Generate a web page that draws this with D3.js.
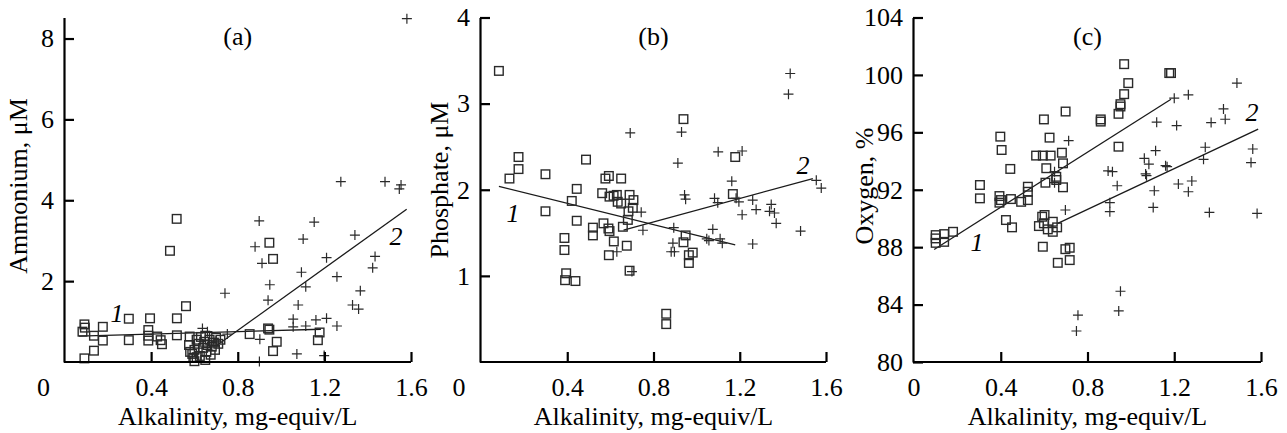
<!DOCTYPE html>
<html lang="en">
  <head>
    <meta charset="utf-8">
    <title>Alkalinity scatter panels</title>
    <script type="text/javascript" src="https://cdn.jsdelivr.net/npm/d3@7"></script>
    <style type="text/css">
      body { margin: 0; background: #fff; }
    </style>
  </head>
  <body>
    <script type="text/javascript">

      //Width and height
      var w = 1287;
      var h = 433;

      //Shared x axis
      var xTicks = [0.4, 0.8, 1.2, 1.6];
      var xTitle = "Alkalinity, mg-equiv/L";

      //Panel (a): ammonium
      var ammoniumTicks = [2, 4, 6, 8];
      var ammoniumSquares = [
        [0.518,3.54],[0.487,2.75],[0.946,2.95],[0.963,2.55],[0.561,1.38],[0.297,1.07],[0.395,1.08],[0.519,1.08],
        [0.092,0.93],[0.094,0.85],[0.177,0.87],[0.083,0.75],[0.136,0.65],[0.177,0.53],[0.297,0.54],
        [0.387,0.79],[0.387,0.65],[0.387,0.53],[0.428,0.63],[0.444,0.54],[0.45,0.44],[0.519,0.66],[0.578,0.63],
        [0.136,0.28],[0.092,0.09],[0.855,0.69],[0.94,0.83],[0.946,0.80],[0.98,0.50],[0.963,0.27],[1.178,0.73],[1.17,0.54],
        [0.575,0.42],[0.59,0.20],[0.595,0.10],[0.60,0.02],[0.60,0.30],[0.61,0.55],[0.62,0.45],[0.625,0.15],
        [0.63,0.62],[0.64,0.35],[0.645,0.50],[0.65,0.05],[0.655,0.25],[0.66,0.42],[0.67,0.55],[0.675,0.18],
        [0.68,0.38],[0.69,0.48],[0.695,0.30],[0.70,0.60],[0.71,0.45],[0.72,0.55],[0.65,0.65],[0.61,0.12],[0.58,0.25]
      ];
      var ammoniumPluses = [
        [1.581,8.49],[1.276,4.46],[1.48,4.46],[1.554,4.38],[1.546,4.28],
        [0.899,3.49],[1.153,3.46],[1.341,3.14],[1.102,3.04],[0.88,2.85],[1.21,2.58],[0.912,2.44],[1.434,2.61],
        [1.423,2.33],[1.094,2.22],[1.258,2.11],[0.948,1.91],[1.114,1.86],[0.741,1.70],[1.366,1.76],[0.94,1.53],
        [1.079,1.41],[1.33,1.41],[1.358,1.31],[1.056,1.06],[1.056,0.87],[1.114,0.89],[1.161,1.04],[1.21,1.08],
        [1.258,0.89],[0.637,0.83],[0.752,0.69],[0.902,0.56],[1.073,0.20],[1.199,0.16],[0.9,0.01],[0.66,0.75],[0.70,0.52]
      ];
      var ammoniumFit1 = [[0.066,0.64],[1.184,0.81]];
      var ammoniumFit2 = [[0.706,0.42],[1.58,3.78]];

      //Panel (b): phosphate
      var phosphateTicks = [1, 2, 3, 4];
      var phosphateSquares = [
        [0.083,3.38],[0.939,2.82],[0.174,2.38],[0.174,2.24],[0.132,2.13],[0.299,2.18],[0.487,2.35],[0.593,2.16],
        [0.577,2.13],[0.65,2.13],[0.444,2.01],[1.179,2.38],[1.168,1.95],[0.562,1.96],[0.596,1.92],[0.615,1.93],
        [0.63,1.94],[0.634,1.86],[0.689,1.94],[0.707,1.88],[0.704,1.79],[0.421,1.87],[0.65,1.84],[0.684,1.75],
        [0.299,1.75],[0.444,1.64],[0.681,1.65],[0.568,1.61],[0.519,1.56],[0.519,1.47],[0.591,1.55],[0.596,1.52],
        [0.658,1.57],[0.387,1.44],[0.387,1.30],[0.616,1.40],[0.676,1.35],[0.593,1.24],[0.949,1.47],[0.939,1.39],
        [0.982,1.27],[0.964,1.24],[0.964,1.15],[0.689,1.06],[0.395,1.03],[0.39,0.95],[0.438,0.94],[0.859,0.56],[0.859,0.44]
      ];
      var phosphatePluses = [
        [1.434,3.35],[1.426,3.11],[0.692,2.66],[0.93,2.67],[1.10,2.44],[1.211,2.45],[0.913,2.31],[1.163,2.10],
        [1.555,2.11],[1.578,2.02],[0.944,1.94],[0.949,1.89],[1.083,1.90],[1.098,1.85],[1.183,1.90],[1.196,1.86],
        [1.26,1.88],[1.276,1.77],[1.211,1.71],[1.346,1.83],[1.338,1.75],[1.361,1.73],[1.369,1.61],[1.482,1.52],
        [0.743,1.74],[0.751,1.53],[0.894,1.56],[0.89,1.38],[0.882,1.28],[0.897,1.28],[1.075,1.54],[1.047,1.43],
        [1.057,1.41],[1.109,1.43],[1.119,1.38],[1.26,1.37],[0.63,1.28],[0.70,1.05]
      ];
      var phosphateFit1 = [[0.083,2.04],[1.179,1.36]];
      var phosphateFit2 = [[0.661,1.53],[1.539,2.13]];

      //Panel (c): oxygen
      var oxygenTicks = [80, 84, 88, 92, 96, 100, 104];
      var oxygenSquares = [
        [0.969,100.75],[0.988,99.43],[0.969,98.66],[0.952,97.96],[0.952,97.8],[0.943,97.29],[1.177,100.13],[1.185,100.13],
        [0.861,96.9],[0.861,96.75],[0.699,97.45],[0.599,96.9],[0.398,95.70],[0.404,94.77],[0.625,95.63],[0.943,95.0],
        [0.563,94.38],[0.594,94.38],[0.63,94.38],[0.682,94.58],[0.687,93.84],[0.444,93.45],[0.61,93.5],[0.656,92.9],
        [0.656,92.68],[0.606,92.49],[0.687,92.17],[0.304,92.33],[0.304,91.4],[0.394,91.56],[0.401,91.28],[0.447,91.35],
        [0.525,92.21],[0.525,91.86],[0.394,91.1],[0.494,91.16],[0.525,91.28],[0.424,89.89],[0.452,89.38],
        [0.10,88.84],[0.10,88.61],[0.10,88.30],[0.139,88.91],[0.139,88.37],[0.18,89.07],
        [0.576,89.47],[0.591,90.12],[0.602,90.24],[0.599,89.66],[0.64,89.77],[0.64,89.07],[0.66,89.38],[0.617,89.24],
        [0.594,88.03],[0.663,86.91],[0.698,87.86],[0.718,87.96],[0.718,87.1]
      ];
      var oxygenPluses = [
        [1.489,99.43],[1.265,98.61],[1.2,98.38],[1.427,97.63],[1.435,96.91],[1.37,96.68],[1.119,96.71],[1.211,96.47],
        [0.713,95.42],[1.343,94.96],[1.335,94.12],[1.562,94.84],[1.554,93.89],[1.114,94.72],[1.062,94.19],[1.083,93.78],
        [1.16,93.68],[1.167,93.61],[0.895,93.31],[0.915,93.26],[1.068,93.1],[1.072,92.98],[0.937,92.28],[1.219,92.40],
        [1.281,92.61],[1.265,91.86],[1.108,91.93],[0.648,92.49],[0.648,93.26],[0.903,91.1],[0.903,90.47],[1.103,90.77],
        [1.362,90.42],[1.582,90.35],[0.698,90.59],[0.952,84.93],[0.944,83.56],[0.756,83.26],[0.749,82.16]
      ];
      var oxygenFit1 = [[0.093,87.84],[1.185,98.31]];
      var oxygenFit2 = [[0.663,89.66],[1.587,96.22]];

      var fontSize = 26;
      var ink = "#1a1a1a";
      var serif = "'Liberation Serif', 'Times New Roman', Times, serif";

      //Create SVG element
      var svg = d3.select("body")
                  .append("svg")
                  .attr("width", w)
                  .attr("height", h)
                  .attr("font-family", serif);

      var panels = [
        { tag: "(a)", title: "Ammonium, \u03bcM", yTicks: ammoniumTicks, yDomain: [0, 8.52],
          squares: ammoniumSquares, pluses: ammoniumPluses, fits: [ammoniumFit1, ammoniumFit2],
          left: 64, xRange: [64.5, 411], zeroDx: -21, titleX: 18, titleY: 186,
          lab1: [117, 313], lab2: [396, 236] },
        { tag: "(b)", title: "Phosphate, \u03bcM", yTicks: phosphateTicks, yDomain: [0, 4],
          squares: phosphateSquares, pluses: phosphatePluses, fits: [phosphateFit1, phosphateFit2],
          left: 480, xRange: [481, 826], zeroDx: -22, titleX: 439, titleY: 180,
          lab1: [513, 213], lab2: [803, 165] },
        { tag: "(c)", title: "Oxygen, %", yTicks: oxygenTicks, yDomain: [80, 104],
          squares: oxygenSquares, pluses: oxygenPluses, fits: [oxygenFit1, oxygenFit2],
          left: 913, xRange: [914, 1261], zeroDx: 0, titleX: 864, titleY: 186,
          lab1: [977, 242], lab2: [1252, 112] }
      ];

      var plotBottom = 362;
      var plotTop = 17.5;

      function addText(g, str, x, y, rot) {
        return g.append("text")
                .attr("transform", "translate(" + x + "," + y + ")" + (rot ? " rotate(" + rot + ")" : ""))
                .attr("text-anchor", "middle")
                .attr("font-size", fontSize)
                .attr("fill", "#000")
                .text(str);
      }

      panels.forEach(function(p) {

        var x = d3.scaleLinear().domain([0, 1.6]).range(p.xRange);
        var y = d3.scaleLinear().domain(p.yDomain).range([plotBottom, plotTop]);

        var g = svg.append("g");

        //Fitted lines
        var line = d3.line()
                     .x(function(d) { return x(d[0]); })
                     .y(function(d) { return y(d[1]); });

        g.selectAll("path.fit")
         .data(p.fits)
         .enter()
         .append("path")
         .attr("class", "fit")
         .attr("d", line)
         .attr("fill", "none")
         .attr("stroke", ink)
         .attr("stroke-width", 1.3);

        //Squares
        g.selectAll("rect.sq")
         .data(p.squares)
         .enter()
         .append("rect")
         .attr("class", "sq")
         .attr("x", function(d) { return x(d[0]) - 4.3; })
         .attr("y", function(d) { return y(d[1]) - 4.3; })
         .attr("width", 8.6)
         .attr("height", 8.6)
         .attr("fill", "none")
         .attr("stroke", "#2a2a2a")
         .attr("stroke-width", 1.4);

        //Pluses
        g.selectAll("path.plus")
         .data(p.pluses)
         .enter()
         .append("path")
         .attr("class", "plus")
         .attr("transform", function(d) { return "translate(" + x(d[0]) + "," + y(d[1]) + ")"; })
         .attr("d", "M-5,0H5M0,-5V5")
         .attr("stroke", "#2a2a2a")
         .attr("stroke-width", 1.2);

        //Axes
        var yAxis = d3.axisLeft(y)
                      .tickValues(p.yTicks)
                      .tickSizeInner(-10)
                      .tickSizeOuter(0)
                      .tickPadding(10)
                      .tickFormat(d3.format("d"));

        var xAxis = d3.axisBottom(x)
                      .tickValues(xTicks)
                      .tickSizeInner(-10)
                      .tickSizeOuter(0)
                      .tickPadding(16)
                      .tickFormat(d3.format(".1f"));

        var gy = g.append("g")
                  .attr("transform", "translate(" + p.left + ",0)")
                  .call(yAxis);

        var gx = g.append("g")
                  .attr("transform", "translate(0," + plotBottom + ")")
                  .call(xAxis);

        gx.select(".domain").attr("d", "M" + p.left + ",0H" + p.xRange[1]);

        [gx, gy].forEach(function(a) {
          a.attr("font-family", null).attr("font-size", fontSize);
          a.selectAll("path, line").attr("stroke", "#000").attr("stroke-width", 2.2);
          a.selectAll("text").attr("fill", "#000");
        });

        //Zero on the x axis
        addText(g, "0", p.xRange[0] + p.zeroDx, plotBottom + 16)
          .attr("dy", "0.71em");

        //Axis titles
        addText(g, xTitle, (p.xRange[0] + p.xRange[1]) / 2, 425);

        addText(g, p.title, p.titleX, p.titleY, -90)
          .attr("dy", "0.35em");

        //Panel tag
        addText(g, p.tag, (p.xRange[0] + p.xRange[1]) / 2, 45);

        //Line numbers
        [["1", p.lab1], ["2", p.lab2]].forEach(function(l) {
          addText(g, l[0], l[1][0], l[1][1])
            .attr("dy", "0.35em")
            .attr("font-size", 26)
            .attr("font-style", "italic");
        });

      });

    </script>
  </body>
</html>
